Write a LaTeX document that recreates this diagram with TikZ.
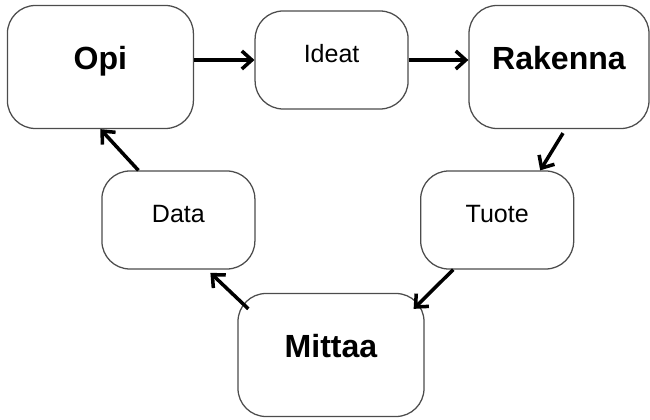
\documentclass[tikz,border=0pt]{standalone}
\usepackage{fontspec}
\setmainfont{Liberation Sans}
\usetikzlibrary{arrows.meta}
\tikzset{
  stage/.style = {draw = black!70, line width = .9pt, rounded corners = .7cm,
    minimum width = 4.65cm, minimum height = 3.075cm, inner sep = 0pt,
    font = \fontsize{22.8}{26}\selectfont\bfseries, text depth = .3em, text height = .7em},
  item/.style = {draw = black!70, line width = .9pt, rounded corners = .7cm,
    minimum width = 3.825cm, minimum height = 2.45cm, inner sep = 0pt,
    font = \fontsize{17.8}{21}\selectfont, text depth = .3em, text height = .7em},
  flow/.style = {line width = 2.5pt, -{Straight Barb[length = .25cm, width = .45cm]}}
}
\begin{document}
\begin{tikzpicture}
\useasboundingbox (0,0) rectangle (16.25,10.475);
% top row
\node[stage] (opi) at (2.51, 8.8) {Opi};
\node[item] (ideat) at (8.29, 8.975) {Ideat};
\node[stage, minimum width = 4.5cm] (rakenna) at (13.975, 8.8) {Rakenna};
% middle row
\node[item] (data) at (4.46, 4.975) {Data};
\node[item] (tuote) at (12.43, 4.975) {Tuote};
% bottom
\node[stage] (mittaa) at (8.275, 1.6) {Mittaa};

\draw[flow] (opi.east |- ideat) -- (ideat);
\draw[flow] (ideat) -- (rakenna.west |- ideat);
\draw[flow] ([xshift = .1cm, yshift = -.1cm]rakenna.south) -- ([xshift = 1.075cm]tuote.north);
\draw[flow] ([xshift = -1.1cm]tuote.south) -- ([xshift = -.275cm, yshift = -.4cm]mittaa.north east);
\draw[flow] ([xshift = .275cm, yshift = -.4cm]mittaa.north west) -- ([xshift = .8cm, yshift = -.08cm]data.south);
\draw[flow] ([xshift = -1cm]data.north) -- (opi.south);
\end{tikzpicture}
\end{document}
